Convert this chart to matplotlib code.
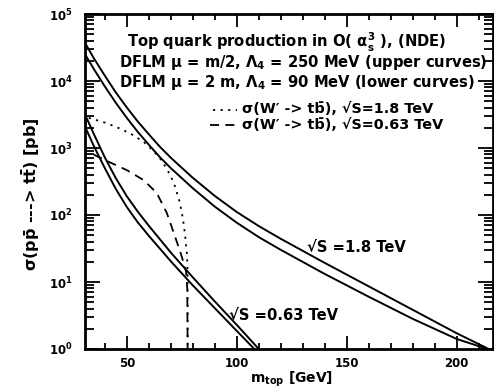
import numpy as np
import matplotlib
matplotlib.use("Agg")
import matplotlib.pyplot as plt
from matplotlib.ticker import LogLocator, MultipleLocator, NullFormatter

plt.rcParams['font.family'] = 'DejaVu Sans'
plt.rcParams['font.weight'] = 'bold'
plt.rcParams['mathtext.default'] = 'bf'

# sqrt(S) = 1.8 TeV, upper / lower curves (log10 of sigma in pb)
m_18_up = [31, 35, 40, 45, 50, 55, 60, 65, 70, 80, 90, 100, 110, 120, 140, 160, 180, 200, 217]
lg_18_up = [4.57, 4.34, 4.08, 3.83, 3.605, 3.395, 3.205, 3.02, 2.855, 2.555, 2.285,
            2.045, 1.835, 1.645, 1.285, 0.935, 0.585, 0.235, -0.04]
m_18_lo = [31, 35, 40, 45, 50, 55, 60, 65, 70, 80, 90, 100, 110, 120, 140, 160, 180, 200, 214, 217]
lg_18_lo = [4.40, 4.18, 3.92, 3.675, 3.45, 3.24, 3.05, 2.865, 2.70, 2.40, 2.125,
            1.885, 1.67, 1.48, 1.12, 0.78, 0.45, 0.15, 0.0, -0.04]

# sqrt(S) = 0.63 TeV, upper / lower curves
m_063_up = [31, 35, 40, 45, 50, 55, 60, 70, 80, 90, 100, 110, 111]
lg_063_up = [3.50, 3.21, 2.86, 2.55, 2.28, 2.05, 1.84, 1.44, 1.07, 0.71, 0.36, 0.0, -0.04]
m_063_lo = [31, 35, 40, 45, 50, 55, 60, 70, 80, 90, 100, 108, 109]
lg_063_lo = [3.32, 3.03, 2.70, 2.39, 2.12, 1.89, 1.69, 1.31, 0.95, 0.61, 0.27, 0.0, -0.04]

# W' -> t bbar
m_wp_18 = [32.7, 40, 45.5, 52, 57.7, 62, 65, 68, 70, 72, 74, 75.5, 76.5, 77.3, 77.6, 77.8]
lg_wp_18 = [3.45, 3.38, 3.31, 3.21, 3.09, 2.96, 2.85, 2.70, 2.58, 2.42, 2.20, 1.95,
            1.70, 1.43, 1.20, -1.0]
m_wp_063 = [35, 42.7, 50, 57.7, 63.6, 68.2, 71.4, 74.5, 75.9, 77.0, 77.5, 77.8]
lg_wp_063 = [2.90, 2.78, 2.67, 2.52, 2.33, 2.03, 1.73, 1.43, 1.28, 1.15, 0.9, -1.0]

W, H = 494, 391
fig = plt.figure(figsize=(W / 100, H / 100), dpi=100)
ax = fig.add_axes([85 / W, 1 - 349 / H, (493 - 85) / W, (349 - 14) / H])

for m, lg in [(m_18_up, lg_18_up), (m_18_lo, lg_18_lo),
              (m_063_up, lg_063_up), (m_063_lo, lg_063_lo)]:
    ax.plot(m, np.power(10.0, lg), color='black', lw=1.4)
dot = (0, (1.2, 3))
dash = (0, (5, 3.5))
ax.plot(m_wp_18, np.power(10.0, lg_wp_18), color='black', lw=1.3, ls=dot)
ax.plot(m_wp_063, np.power(10.0, lg_wp_063), color='black', lw=1.3, ls=dash)

ax.set_yscale('log')
ax.set_xlim(31, 216.5)
ax.set_ylim(1, 1e5)
ax.xaxis.set_major_locator(MultipleLocator(50))
ax.xaxis.set_minor_locator(MultipleLocator(10))
ax.yaxis.set_major_locator(LogLocator(base=10))
ax.yaxis.set_minor_locator(LogLocator(base=10, subs=np.arange(2, 10)))
ax.yaxis.set_minor_formatter(NullFormatter())
ax.tick_params(which='both', direction='in', top=True, right=True, width=1.3,
               labelsize=8.5)
ax.tick_params(axis='y', which='major', length=11, pad=9)
ax.tick_params(axis='y', which='minor', length=6.5)
ax.tick_params(axis='x', which='major', length=9.5, pad=6)
ax.tick_params(axis='x', which='minor', length=4.5)
for sp in ax.spines.values():
    sp.set_linewidth(2.0)

fig.text(292 / W, 1 - 379 / H, r'm$_{top}$ [GeV]', fontsize=10,
         ha='center', va='center')
fig.text(31 / W, 1 - 194 / H, r'$\sigma(p\bar{p}$ ---> t$\bar{t}$) [pb]',
         fontsize=11.5, rotation=90, ha='center', va='center')


def ftext(x, y, s, size=10.6):
    fig.text(x / W, 1 - y / H, s, fontsize=size, va='center')


ftext(127, 42, r'Top quark production in O( $\alpha_s^3$ ), (NDE)')
ftext(119, 63, r'DFLM $\mu$ = m/2, $\Lambda_4$ = 250 MeV (upper curves)')
ftext(119, 83, r'DFLM $\mu$ = 2 m, $\Lambda_4$ = 90 MeV (lower curves)')
ftext(242, 109, "σ(W′ -> tb\u0304), √S=1.8 TeV", size=10.4)
ftext(242, 125, "σ(W′ -> tb\u0304), √S=0.63 TeV", size=10.4)
ftext(307, 248, '√S =1.8 TeV')
ftext(229, 316, '√S =0.63 TeV')

fig.add_artist(plt.Line2D([213 / W, 237 / W], [1 - 110 / H] * 2, color='black',
                          lw=1.3, ls=dot))
fig.add_artist(plt.Line2D([210 / W, 237 / W], [1 - 125 / H] * 2, color='black',
                          lw=1.3, ls=dash))

fig.savefig('out.png', dpi=100)
